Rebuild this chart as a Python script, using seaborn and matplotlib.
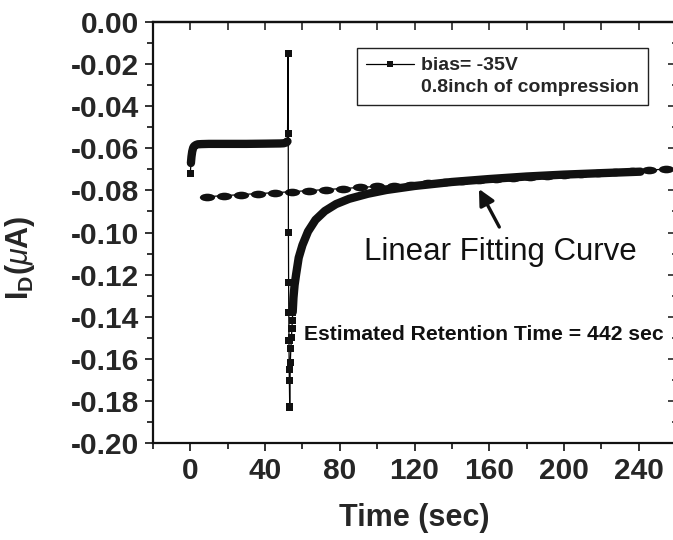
import numpy as np
import pandas as pd
import matplotlib
matplotlib.use("Agg")
import matplotlib.pyplot as plt
from matplotlib.path import Path
from matplotlib.transforms import Affine2D
from matplotlib.lines import Line2D
from matplotlib.ticker import MultipleLocator, FormatStrFormatter
import seaborn as sns

# ---------------- data ----------------
plateau_t = [0.0, 0.3, 0.6, 1.0, 1.5, 2.0, 3.0, 4.0, 6.0, 10.0, 20.0, 30.0, 40.0, 48.0, 50.0, 51.5, 52.0]
plateau_i = [-0.0719, -0.0670, -0.0640, -0.0615, -0.0598, -0.0590, -0.0584, -0.0581, -0.0580,
             -0.0579, -0.0579, -0.0579, -0.0578, -0.0577, -0.0576, -0.0572, -0.0567]

spike_t = [52.3, 52.4, 52.5, 52.6, 52.7, 52.8, 52.9, 53.0, 53.2, 53.5, 53.8, 54.1, 54.4, 54.6, 54.8]
spike_i = [-0.0149, -0.0529, -0.1000, -0.1238, -0.1378, -0.1514, -0.1649, -0.1704, -0.1829,
           -0.1618, -0.1553, -0.1500, -0.1454, -0.1416, -0.1378]

recov_t = [54.8, 55.2, 55.8, 56.6, 58.0, 60.0, 63.0, 67.0, 72.0, 78.0, 85.0, 95.0, 105.0,
           120.0, 140.0, 160.0, 180.0, 200.0, 220.0, 241.0]
recov_i = [-0.1378, -0.1310, -0.1250, -0.1200, -0.1120, -0.1060, -0.0995, -0.0940, -0.0898,
           -0.0865, -0.0840, -0.0816, -0.0798, -0.0779, -0.0760, -0.0746, -0.0734, -0.0725,
           -0.0718, -0.0711]

fit_t = [8.7, 17.8, 26.9, 36.1, 45.2, 54.3, 63.4, 72.5, 81.7, 90.8, 99.9, 109.0, 118.1, 127.3,
         136.4, 145.5, 154.6, 163.7, 172.9, 182.0, 191.1, 200.2, 209.3, 218.5, 227.6, 236.7,
         245.8, 254.9]
fit_i = [-0.0830, -0.0825, -0.0820, -0.0815, -0.0811, -0.0806, -0.0801, -0.0796, -0.0791,
         -0.0786, -0.0781, -0.0777, -0.0772, -0.0767, -0.0762, -0.0757, -0.0752, -0.0747,
         -0.0742, -0.0738, -0.0733, -0.0728, -0.0723, -0.0718, -0.0713, -0.0708, -0.0703,
         -0.0699]

x_ticks = [0, 40, 80, 120, 160, 200, 240]
y_ticks = [0.00, -0.02, -0.04, -0.06, -0.08, -0.10, -0.12, -0.14, -0.16, -0.18, -0.20]

legend_label_1 = "bias= -35V"
legend_label_2 = "0.8inch of compression"
fit_text = "Linear Fitting Curve"
retention_text = "Estimated Retention Time = 442 sec"

# ---------------- style ----------------
sns.set_style("ticks")
plt.rcParams["font.family"] = ["Liberation Sans", "DejaVu Sans"]
plt.rcParams["mathtext.fontset"] = "custom"
plt.rcParams["mathtext.rm"] = "Liberation Sans"
plt.rcParams["mathtext.bf"] = "Liberation Sans:bold"
plt.rcParams["mathtext.it"] = "Liberation Sans:italic"

fig = plt.figure(figsize=(6.73, 5.40), dpi=100)
ax = fig.add_axes([153 / 673, 97 / 540, 523 / 673, 421 / 540])

main_df = pd.DataFrame({
    "t": plateau_t + spike_t + recov_t,
    "i": plateau_i + spike_i + recov_i,
})
plat_df = pd.DataFrame({"t": plateau_t[1:], "i": plateau_i[1:]})
rec_df = pd.DataFrame({"t": recov_t, "i": recov_i})
mark_df = pd.DataFrame({"t": plateau_t[:1] + spike_t, "i": plateau_i[:1] + spike_i})
fit_df = pd.DataFrame({"t": fit_t, "i": fit_i})

# elliptical marker for fit points
ell = Path.unit_circle().transformed(Affine2D().scale(1.0, 0.5))

# fit line
sns.lineplot(data=fit_df, x="t", y="i", ax=ax, sort=False, estimator=None,
             color="black", lw=0.9, marker=ell, markersize=11, markeredgewidth=0,
             markerfacecolor="#111111", zorder=2)

# thin connection of whole series
sns.lineplot(data=main_df, x="t", y="i", ax=ax, sort=False, estimator=None,
             color="black", lw=0.9, zorder=3)
# dense parts
sns.lineplot(data=plat_df, x="t", y="i", ax=ax, sort=False, estimator=None,
             color="#111111", lw=6.0, solid_capstyle="round", zorder=4)
sns.lineplot(data=rec_df, x="t", y="i", ax=ax, sort=False, estimator=None,
             color="#111111", lw=6.0, solid_capstyle="round", zorder=4)
# sparse points as squares
sns.scatterplot(data=mark_df, x="t", y="i", ax=ax, marker="s", s=26, color="#111111",
                edgecolor="none", zorder=5)

ax.set_xlim(-20, 260)
ax.set_ylim(-0.20, 0.0)
ax.set_xticks(x_ticks)
ax.set_yticks(y_ticks)
ax.xaxis.set_minor_locator(MultipleLocator(20))
ax.yaxis.set_minor_locator(MultipleLocator(0.01))
ax.yaxis.set_major_formatter(FormatStrFormatter("%.2f"))

for s in ax.spines.values():
    s.set_linewidth(1.6)
    s.set_color("#111111")

ax.tick_params(axis="both", which="major", direction="out", length=6, width=1.2,
               labelsize=21.5, pad=4, color="#111111")
ax.tick_params(axis="both", which="minor", direction="out", length=4, width=1.2,
               color="#111111")
for lab in ax.get_xticklabels() + ax.get_yticklabels():
    lab.set_fontweight("bold")

# top & right inward ticks
top = ax.secondary_xaxis("top")
top.set_xticks(x_ticks)
top.xaxis.set_minor_locator(MultipleLocator(20))
top.tick_params(which="both", direction="in", length=6, width=1.2, labeltop=False)
top.spines["top"].set_linewidth(1.6)
right = ax.secondary_yaxis("right")
right.set_yticks(y_ticks)
right.yaxis.set_minor_locator(MultipleLocator(0.01))
right.tick_params(which="major", direction="in", length=6, width=1.2, labelright=False)
right.tick_params(which="minor", direction="in", length=3, width=1.2, labelright=False)

ax.set_xlabel("Time (sec)", fontsize=22, fontweight="bold", labelpad=13)
ax.set_ylabel(r"$\mathbf{I}_\mathbf{D}$$\mathbf{(}\mu\mathbf{A)}$", fontsize=22)
ax.yaxis.set_label_coords(-0.222, 0.44)

# legend
handles = [Line2D([0], [0], color="black", lw=0.9, marker="s", markersize=4.5,
                  markerfacecolor="#111111", markeredgewidth=0),
           Line2D([0], [0], color="none", lw=0)]
leg = ax.legend(handles, [legend_label_1, legend_label_2], loc="upper left",
                bbox_to_anchor=(0.390, 0.938), borderaxespad=0, frameon=True,
                fancybox=False, edgecolor="#222222", framealpha=1,
                prop={"weight": "bold", "size": 14}, handlelength=2.5,
                handletextpad=0.35, labelspacing=0.2, borderpad=0.45)
leg.get_frame().set_linewidth(1.0)

ax.text(93.1, -0.1131, fit_text, fontsize=22.5, ha="left", va="baseline", color="#111111")
ax.annotate("", xy=(154.5, -0.0793), xytext=(165.4, -0.0974),
            arrowprops=dict(arrowstyle="-|>", lw=2.4, color="#111111", mutation_scale=24,
                            shrinkA=0, shrinkB=0))
ax.text(61.0, -0.1511, retention_text, fontsize=15.2, fontweight="bold", ha="left",
        va="baseline", color="#111111")

fig.savefig("out.png", dpi=100)
